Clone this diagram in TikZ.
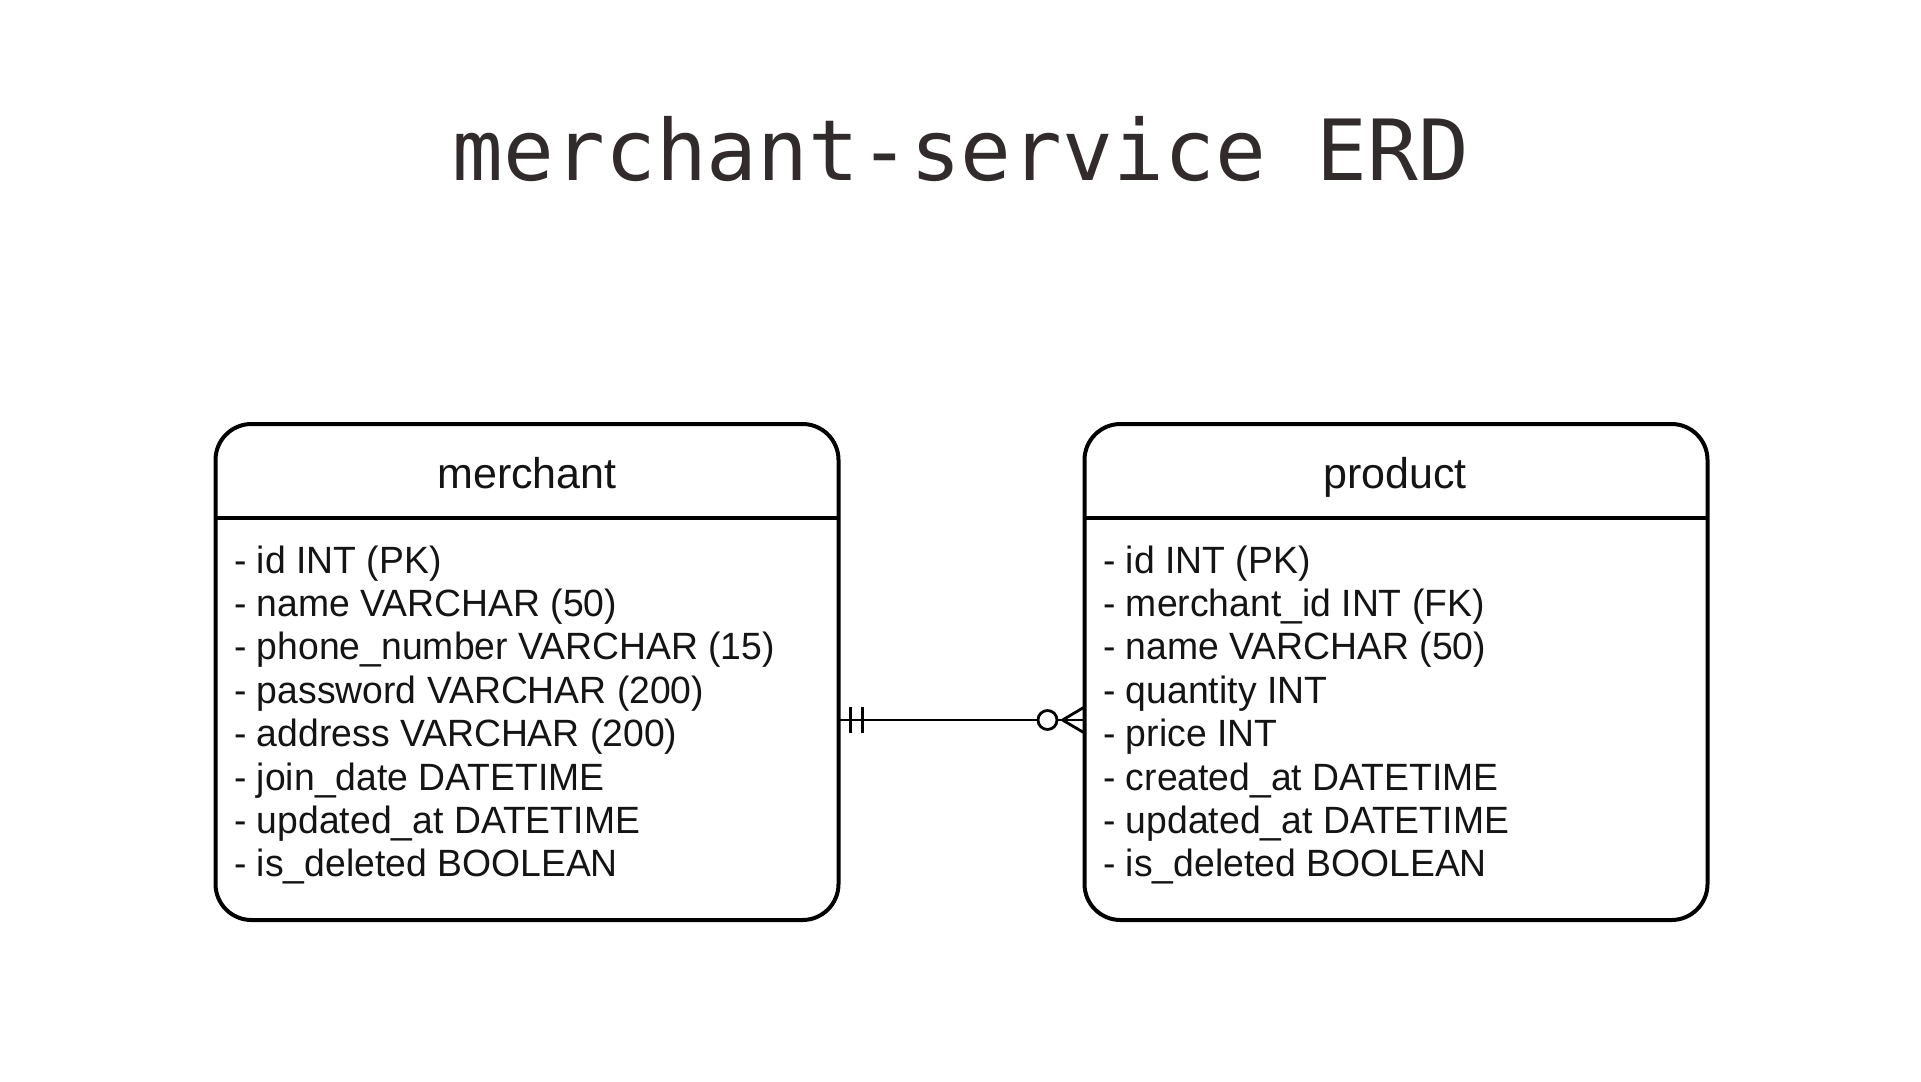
\documentclass[tikz,border=0pt]{standalone}
\usepackage{fontspec}
\setmainfont{Liberation Sans}
\newfontfamily\titlefont{DejaVu Sans Mono}
\newfontfamily\attrfont[FakeStretch=0.982]{Liberation Sans}
\usetikzlibrary{calc}
\definecolor{titlecol}{RGB}{50,43,43}
\definecolor{inkcol}{RGB}{20,20,20}
\tikzset{
  entity/.style={draw=black, line width=4pt, rounded corners=36pt, minimum width=623pt, minimum height=496pt, inner sep=0pt, outer sep=0pt, fill=white},
  divider/.style={draw=black, line width=4pt},
  hdr/.style={anchor=base, inner sep=0pt, font=\fontsize{43}{50}\selectfont, text=inkcol},
  attr/.style={anchor=base west, inner sep=0pt, font=\attrfont\fontsize{38}{44}\selectfont, text=inkcol},
  rel/.style={draw=black, line width=2.8pt},
  ttl/.style={anchor=base, inner sep=0pt, font=\titlefont\fontsize{84.4}{90}\selectfont, text=titlecol}
}
\begin{document}
\begin{tikzpicture}[x=1pt,y=-1pt]
\useasboundingbox (0,0) rectangle (1921,1081);
\fill[white] (0,0) rectangle (1921,1081);
\node[ttl] (title) at (961,180) {merchant-service ERD};

% merchant entity
\node[entity] (merchant) at (527,672) {};
\path (merchant.north west) ++(0,94) coordinate (mdl);
\path (merchant.north east) ++(0,94) coordinate (mdr);
\draw[divider] (mdl) -- (mdr);
\node[hdr] (mhead) at (527,488) {merchant};
\foreach \t [count=\i from 0] in {- id INT (PK), - name VARCHAR (50), - phone\_number VARCHAR (15), - password VARCHAR (200), - address VARCHAR (200), - join\_date DATETIME, - updated\_at DATETIME, - is\_deleted BOOLEAN}
  \node[attr] (m\i) at (234,573+43.4*\i) {\t};

% product entity
\node[entity] (product) at (1396,672) {};
\path (product.north west) ++(0,94) coordinate (pdl);
\path (product.north east) ++(0,94) coordinate (pdr);
\draw[divider] (pdl) -- (pdr);
\node[hdr] (phead) at (1395,488) {product};
\foreach \t [count=\i from 0] in {- id INT (PK), - merchant\_id INT (FK), - name VARCHAR (50), - quantity INT, - price INT, - created\_at DATETIME, - updated\_at DATETIME, - is\_deleted BOOLEAN}
  \node[attr] (p\i) at (1103,573+43.4*\i) {\t};

% relationship
\path (merchant.east) ++(0,48) coordinate (ra);
\path (product.west) ++(0,48) coordinate (rb);
\draw[rel] (ra) -- ($(rb)+(-22,0)$);
\draw[rel] ($(ra)+(12,-13)$) -- ($(ra)+(12,13)$);
\draw[rel] ($(ra)+(24,-13)$) -- ($(ra)+(24,13)$);
\draw[rel, fill=white] ($(rb)+(-37,0)$) circle (9.5);
\draw[rel] ($(rb)+(-22,0)$) -- ($(rb)+(0,-13)$);
\draw[rel] ($(rb)+(-22,0)$) -- (rb);
\draw[rel] ($(rb)+(-22,0)$) -- ($(rb)+(0,13)$);
\end{tikzpicture}
\end{document}
